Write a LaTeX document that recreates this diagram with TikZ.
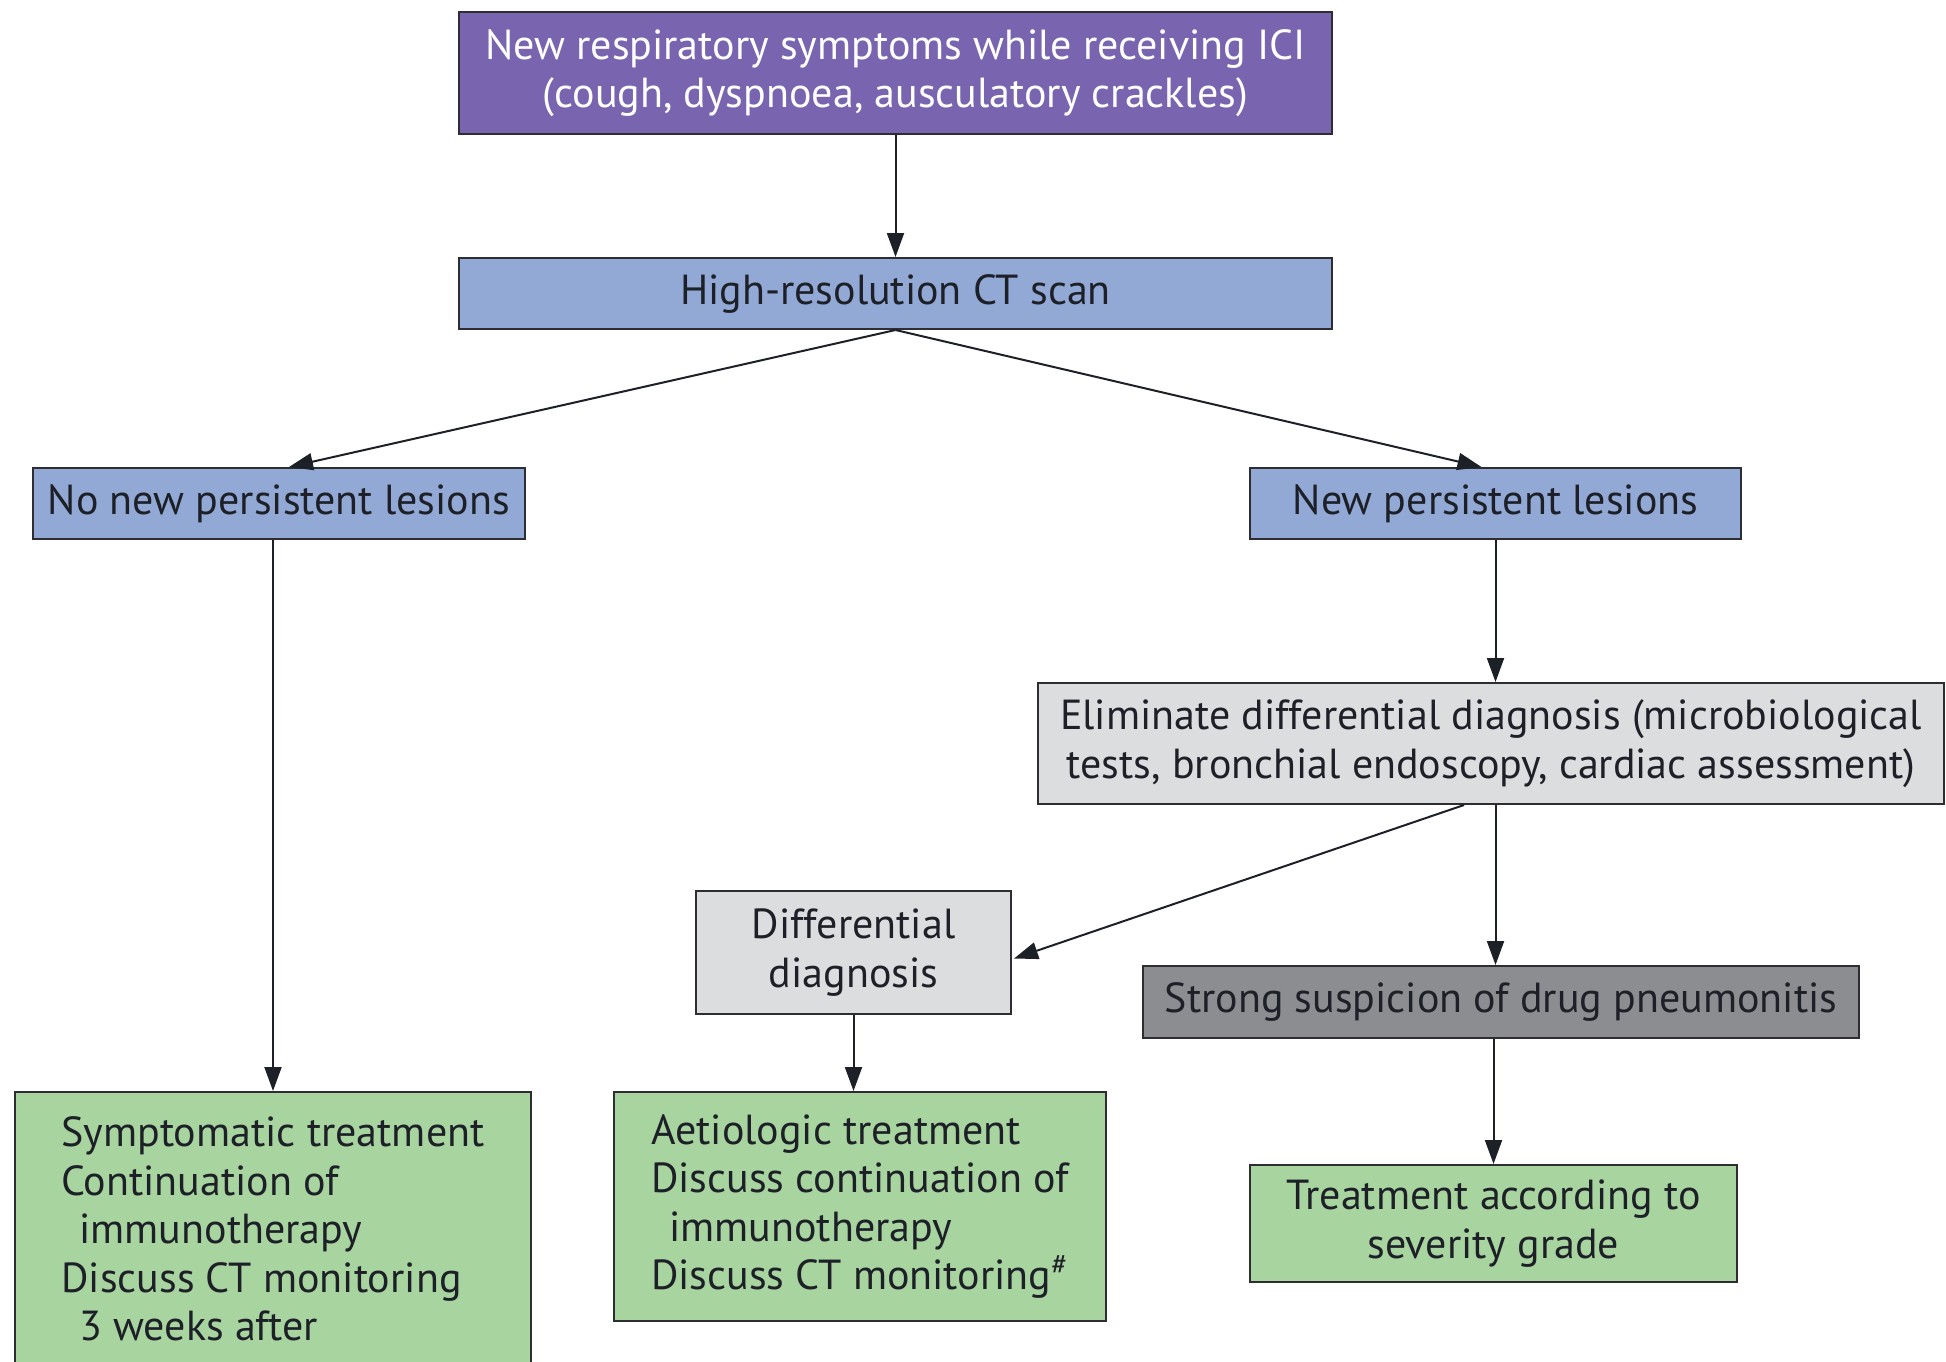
\documentclass[tikz,border=0pt]{standalone}
\usepackage{fontspec}
\setmainfont{PT Sans}
\usepackage{tikz}
\usetikzlibrary{calc}
\usetikzlibrary{arrows.meta}

\definecolor{boxline}{RGB}{45,45,50}
\definecolor{textcol}{RGB}{30,32,40}
\definecolor{symptomfill}{RGB}{121,101,175}
\definecolor{bluefill}{RGB}{146,169,214}
\definecolor{greyfill}{RGB}{220,221,223}
\definecolor{darkgreyfill}{RGB}{140,141,144}
\definecolor{greenfill}{RGB}{168,212,160}

\tikzset{
  box/.style={draw=boxline,line width=1pt,inner sep=0pt,align=center,text=textcol,
    font=\fontsize{21}{24.2}\selectfont},
  link/.style={->,line width=1pt,draw=textcol}
}

\begin{document}
\begin{tikzpicture}[x=0.5pt,y=-0.5pt,>={Triangle[length=12pt,width=8.5pt]}]
\useasboundingbox (0,0) rectangle (1946,1361);
\clip (0,0) rectangle (1946,1361);

\node[box,fill=symptomfill,text=white,minimum width=436.5pt,minimum height=61pt] (symptoms) at (895.5,73)
  {New respiratory symptoms while receiving ICI\\(cough, dyspnoea, ausculatory crackles)};
\node[box,fill=bluefill,minimum width=436.5pt,minimum height=35.5pt] (hrct) at (895.5,293.5)
  {High-resolution CT scan};
\node[box,fill=bluefill,minimum width=246pt,minimum height=35.5pt] (nonew) at (279,503.5)
  {No new persistent lesions};
\node[box,fill=bluefill,minimum width=245.5pt,minimum height=35.5pt] (newles) at (1495.5,503.5)
  {New persistent lesions};
\node[box,fill=greyfill,minimum width=453pt,minimum height=60.5pt] (elim) at (1491,743.5)
  {Eliminate differential diagnosis (microbiological\\tests, bronchial endoscopy, cardiac assessment)};
\node[box,fill=greyfill,minimum width=157.5pt,minimum height=61.5pt] (diff) at (853.5,952.5)
  {Differential\\diagnosis};
\node[box,fill=darkgreyfill,minimum width=358pt,minimum height=36pt] (strong) at (1501,1002)
  {Strong suspicion of drug pneumonitis};
\node[box,fill=greenfill,align=left,minimum width=258pt,minimum height=137pt] (gleft) at (273,1229)
  {Symptomatic treatment\\Continuation of\\\hspace*{9pt}immunotherapy\\Discuss CT monitoring\\\hspace*{9pt}3 weeks after};
\node[box,fill=greenfill,align=left,minimum width=246pt,minimum height=114.5pt] (gmid) at (860,1206.5)
  {Aetiologic treatment\\Discuss continuation of\\\hspace*{9pt}immunotherapy\\Discuss CT monitoring\textsuperscript{\#}};
\node[box,fill=greenfill,minimum width=243.5pt,minimum height=58.5pt] (gright) at (1493.5,1223.5)
  {Treatment according to\\severity grade};

\draw[link] (symptoms) -- (hrct);
\draw[link] (hrct.south) -- ($(nonew.north)+(10,0)$);
\draw[link] (hrct.south) -- ($(newles.north)+(-14,0)$);
\draw[link] (nonew.south -| gleft.north) -- (gleft.north);
\draw[link] (newles) -- (newles |- elim.north);
\draw[link] ($(elim.south)+(-27,0)$) -- ($(diff.east)+(2,6)$);
\draw[link] (elim.south -| newles) -- (strong.north -| newles);
\draw[link] (diff) -- (diff |- gmid.north);
\draw[link] (strong.south -| gright) -- (gright);
\end{tikzpicture}
\end{document}
